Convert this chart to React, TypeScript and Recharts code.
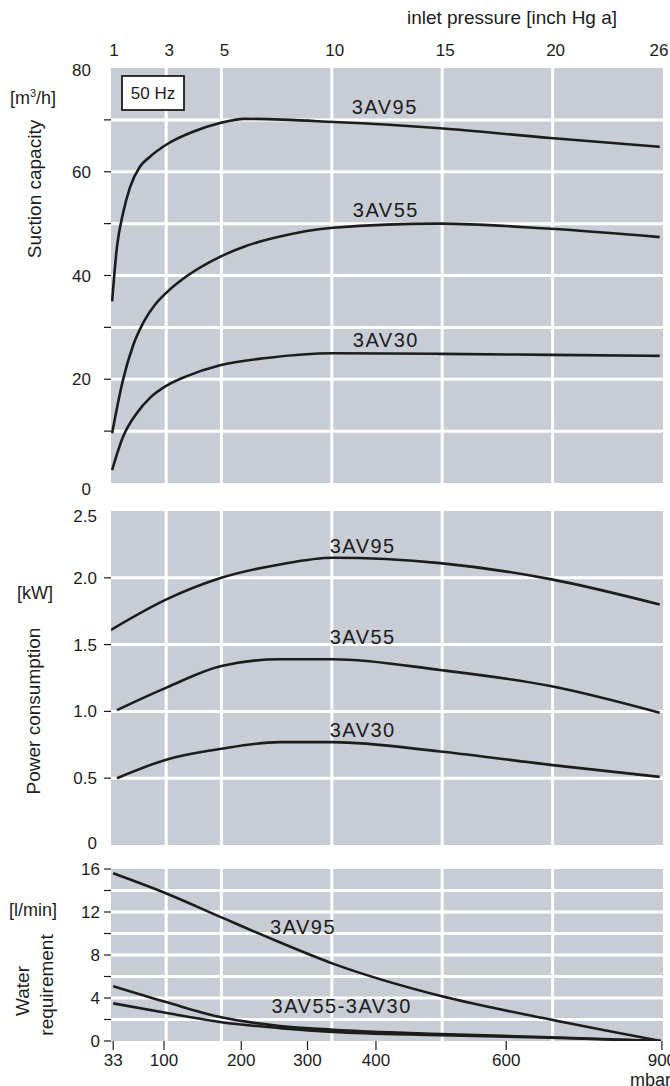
import React from 'react'
import { LineChart, Line, XAxis, YAxis, CartesianGrid, ReferenceLine, ReferenceDot } from 'recharts'

const FONT = '"Liberation Sans", Arial, Helvetica, sans-serif'
const GRAY = '#c8ccd4'
const INK = '#1c1c1c'

// x = position on the inlet pressure scale: 1, 3, 5, 10, 15, 20, 26 inch Hg sit at 0, 0.5, 1, 2, 3, 4, 5
const inchTicks = [0, 0.5, 1, 2, 3, 4, 5]
const inchLabels = ['1', '3', '5', '10', '15', '20', '26']
const mbarTicks = [0.02, 0.48, 1.18, 1.78, 2.4, 3.58, 4.99]
const mbarLabels = ['33', '100', '200', '300', '400', '600', '900']
const gridX = [0.5, 1, 2, 3, 4]

// suction capacity [m3/h]
const suction95 = [
  { x: 0.01, y: 35 }, { x: 0.054, y: 45.5 }, { x: 0.109, y: 52 }, { x: 0.172, y: 57 },
  { x: 0.263, y: 61 }, { x: 0.353, y: 62.9 }, { x: 0.507, y: 65.3 }, { x: 0.743, y: 67.7 },
  { x: 0.987, y: 69.4 }, { x: 1.21, y: 70.2 }, { x: 2.02, y: 69.6 }, { x: 2.98, y: 68.4 },
  { x: 3.98, y: 66.5 }, { x: 4.97, y: 64.8 },
]
const suction55 = [
  { x: 0.01, y: 9.6 }, { x: 0.109, y: 19.9 }, { x: 0.2, y: 26.5 }, { x: 0.3, y: 31.2 },
  { x: 0.4, y: 34.4 }, { x: 0.507, y: 36.8 }, { x: 0.688, y: 39.9 }, { x: 0.987, y: 43.6 },
  { x: 1.21, y: 45.6 }, { x: 1.53, y: 47.5 }, { x: 2.01, y: 49.2 }, { x: 2.98, y: 50 },
  { x: 3.98, y: 49 }, { x: 4.97, y: 47.4 },
]
const suction30 = [
  { x: 0.01, y: 2.5 }, { x: 0.109, y: 8.9 }, { x: 0.235, y: 13.5 }, { x: 0.353, y: 16.4 },
  { x: 0.507, y: 18.8 }, { x: 0.688, y: 20.6 }, { x: 0.987, y: 22.7 }, { x: 1.41, y: 24.1 },
  { x: 2.01, y: 25 }, { x: 2.98, y: 24.9 }, { x: 3.98, y: 24.7 }, { x: 4.97, y: 24.5 },
]

// power consumption [kW]
const power95 = [
  { x: 0, y: 1.61 }, { x: 0.507, y: 1.84 }, { x: 1, y: 2.0 }, { x: 1.53, y: 2.1 },
  { x: 2.01, y: 2.15 }, { x: 2.98, y: 2.11 }, { x: 3.98, y: 1.99 }, { x: 4.97, y: 1.8 },
]
const power55 = [
  { x: 0.054, y: 1.01 }, { x: 0.507, y: 1.18 }, { x: 1, y: 1.34 }, { x: 1.53, y: 1.39 },
  { x: 2.01, y: 1.39 }, { x: 2.98, y: 1.31 }, { x: 3.98, y: 1.19 }, { x: 4.97, y: 0.99 },
]
const power30 = [
  { x: 0.054, y: 0.5 }, { x: 0.507, y: 0.64 }, { x: 1, y: 0.72 }, { x: 1.53, y: 0.77 },
  { x: 2.01, y: 0.77 }, { x: 2.98, y: 0.7 }, { x: 3.98, y: 0.6 }, { x: 4.97, y: 0.51 },
]

// water requirement [l/min]
const water95 = [
  { x: 0.02, y: 15.6 }, { x: 0.507, y: 13.7 }, { x: 1, y: 11.5 }, { x: 1.5, y: 9.3 },
  { x: 2.01, y: 7.2 }, { x: 2.98, y: 4.2 }, { x: 3.98, y: 2.0 }, { x: 4.98, y: 0 },
]
const water55 = [
  { x: 0.02, y: 5.1 }, { x: 0.507, y: 3.6 }, { x: 1, y: 2.2 }, { x: 1.53, y: 1.4 },
  { x: 2.01, y: 1.05 }, { x: 2.98, y: 0.65 }, { x: 3.98, y: 0.35 }, { x: 4.98, y: 0 },
]
const water30 = [
  { x: 0.02, y: 3.5 }, { x: 0.507, y: 2.6 }, { x: 1, y: 1.75 }, { x: 1.53, y: 1.2 },
  { x: 2.01, y: 0.85 }, { x: 2.98, y: 0.55 }, { x: 3.98, y: 0.3 }, { x: 4.98, y: 0 },
]

const suctionTicks = [0, 10, 20, 30, 40, 50, 60, 70, 80]
const powerTicks = [0, 0.5, 1, 1.5, 2, 2.5]
const waterTicks = [0, 2, 4, 6, 8, 10, 12, 14, 16]

const suctionNames = [
  { name: '3AV95', x: 2.48, y: 72.5 },
  { name: '3AV55', x: 2.49, y: 52.6 },
  { name: '3AV30', x: 2.49, y: 27.6 },
]
const powerNames = [
  { name: '3AV95', x: 2.28, y: 2.24 },
  { name: '3AV55', x: 2.28, y: 1.56 },
  { name: '3AV30', x: 2.28, y: 0.86 },
]
const waterNames = [
  { name: '3AV95', x: 1.74, y: 10.6 },
  { name: '3AV55-3AV30', x: 2.09, y: 3.26 },
]

const yTick = (labelled: number[], dashed: number[], gap: number, fmt: (v: number) => string, nudge: Record<string, number> = {}) => (p: any) => {
  const v = p.payload.value
  return (
    <g>
      {dashed.includes(v) && <line x1={p.x - 7} x2={p.x} y1={p.y} y2={p.y} stroke={INK} strokeWidth={1.2} />}
      {labelled.includes(v) && (
        <text x={p.x - gap} y={p.y + (nudge[String(v)] || 0)} dy={6} textAnchor="end" fontSize={17} fill={INK} fontFamily={FONT}>
          {fmt(v)}
        </text>
      )}
    </g>
  )
}

const topTick = (p: any) => {
  const i = inchTicks.indexOf(p.payload.value)
  return (
    <text x={p.x + (i === inchTicks.length - 1 ? -4 : 3)} y={p.y - 12} textAnchor="middle" fontSize={17} fill={INK} fontFamily={FONT}>
      {inchLabels[i]}
    </text>
  )
}

const bottomTick = (p: any) => (
  <g>
    <line x1={p.x} x2={p.x} y1={p.y} y2={p.y + 9} stroke={INK} strokeWidth={1.2} />
    <text x={p.x} y={p.y + 25} textAnchor="middle" fontSize={17} fill={INK} fontFamily={FONT}>
      {mbarLabels[mbarTicks.indexOf(p.payload.value)]}
    </text>
  </g>
)

function gridLines(yVals: number[]) {
  return [
    ...gridX.map((g) => <ReferenceLine key={'gx' + g} x={g} stroke="#fff" strokeWidth={3} />),
    ...yVals.map((g) => <ReferenceLine key={'gy' + g} y={g} stroke="#fff" strokeWidth={3} />),
  ]
}

function curve(data: { x: number; y: number }[], key: string) {
  return (
    <Line key={key} data={data} dataKey="y" type="monotone" stroke={INK} strokeWidth={2.6}
      dot={false} activeDot={false} isAnimationActive={false} />
  )
}

function names(list: { name: string; x: number; y: number }[]) {
  return list.map((n) => (
    <ReferenceDot key={n.name + n.y} x={n.x} y={n.y} r={0} fill="none" stroke="none"
      label={{ value: n.name, position: 'center', fontSize: 20, fill: INK, fontFamily: FONT, letterSpacing: 1.5 }} />
  ))
}

const box: React.CSSProperties = { position: 'absolute', left: 0 }

export default function App() {
  return (
    <div style={{ position: 'absolute', left: 0, top: 0, width: 670, height: 1086, background: '#fff', overflow: 'hidden', fontFamily: FONT }}>
      <div style={{ ...box, top: 0 }}>
        <LineChart width={670} height={500} margin={{ top: 38, right: 7, bottom: 17, left: 0 }}>
          <CartesianGrid fill={GRAY} fillOpacity={1} horizontal={false} vertical={false} />
          <XAxis orientation="top" type="number" dataKey="x" domain={[0, 5]} ticks={inchTicks}
            interval={0} height={30} axisLine={false} tickLine={false} tickSize={0} tickMargin={0} tick={topTick} allowDataOverflow />
          <YAxis type="number" domain={[0, 80]} ticks={suctionTicks} interval={0} width={111} axisLine={false}
            tickLine={false} tickSize={0} tickMargin={0} allowDataOverflow
            tick={yTick([0, 20, 40, 60, 80], [10, 20, 30, 40, 50, 60, 70], 20, (v) => String(v), { '0': 6, '80': 2 })} />
          {gridLines([10, 20, 30, 40, 50, 60, 70])}
          {curve(suction95, 's95')}
          {curve(suction55, 's55')}
          {curve(suction30, 's30')}
          {names(suctionNames)}
        </LineChart>
      </div>

      <div style={{ ...box, top: 500 }}>
        <LineChart width={670} height={360} margin={{ top: 11, right: 7, bottom: 15, left: 0 }}>
          <CartesianGrid fill={GRAY} fillOpacity={1} horizontal={false} vertical={false} />
          <XAxis type="number" dataKey="x" domain={[0, 5]} hide allowDataOverflow />
          <YAxis type="number" domain={[0, 2.5]} ticks={powerTicks} interval={0} width={111} axisLine={false}
            tickLine={false} tickSize={0} tickMargin={0} allowDataOverflow
            tick={yTick(powerTicks, [0.5, 1, 1.5, 2], 14, (v) => (v === 0 ? '0' : v.toFixed(1)), { '2.5': 5, '0': -2 })} />
          {gridLines([0.5, 1, 1.5, 2])}
          {curve(power95, 'p95')}
          {curve(power55, 'p55')}
          {curve(power30, 'p30')}
          {names(powerNames)}
        </LineChart>
      </div>

      <div style={{ ...box, top: 860 }}>
        <LineChart width={670} height={226} margin={{ top: 9, right: 7, bottom: 5, left: 0 }}>
          <CartesianGrid fill={GRAY} fillOpacity={1} horizontal={false} vertical={false} />
          <XAxis type="number" dataKey="x" domain={[0, 5]} ticks={mbarTicks} interval={0} height={40}
            axisLine={false} tickLine={false} tickSize={0} tickMargin={0} tick={bottomTick} allowDataOverflow />
          <YAxis type="number" domain={[0, 16]} ticks={waterTicks} interval={0} width={111} axisLine={false}
            tickLine={false} tickSize={0} tickMargin={0} allowDataOverflow
            tick={yTick([0, 4, 8, 12, 16], waterTicks, 11, (v) => String(v))} />
          {gridLines([2, 4, 6, 8, 10, 12, 14])}
          {curve(water95, 'w95')}
          {curve(water55, 'w55')}
          {curve(water30, 'w30')}
          {names(waterNames)}
        </LineChart>
      </div>

      <svg width={670} height={1086} style={{ position: 'absolute', left: 0, top: 0, pointerEvents: 'none' }} fontFamily={FONT} fill={INK}>
        <text x={512} y={24} textAnchor="middle" fontSize={19}>inlet pressure [inch Hg a]</text>
        <rect x={122} y={76} width={62} height={34} fill="#fff" stroke={INK} strokeWidth={1.8} />
        <text x={153} y={99} textAnchor="middle" fontSize={17}>50 Hz</text>

        <text x={33} y={104} textAnchor="middle" fontSize={18}>
          [m<tspan fontSize={11} dy={-7}>3</tspan><tspan dy={7}>/h]</tspan>
        </text>
        <text transform="translate(41,189) rotate(-90)" textAnchor="middle" fontSize={19}>Suction capacity</text>

        <text x={35} y={599} textAnchor="middle" fontSize={18}>[kW]</text>
        <text transform="translate(40,711) rotate(-90)" textAnchor="middle" fontSize={19}>Power consumption</text>

        <text x={33} y={916} textAnchor="middle" fontSize={18}>[l/min]</text>
        <text transform="translate(29,991) rotate(-90)" textAnchor="middle" fontSize={19}>Water</text>
        <text transform="translate(53,985) rotate(-90)" textAnchor="middle" fontSize={19}>requirement</text>

        <text x={630} y={1086} fontSize={18}>mbar</text>
      </svg>
    </div>
  )
}
